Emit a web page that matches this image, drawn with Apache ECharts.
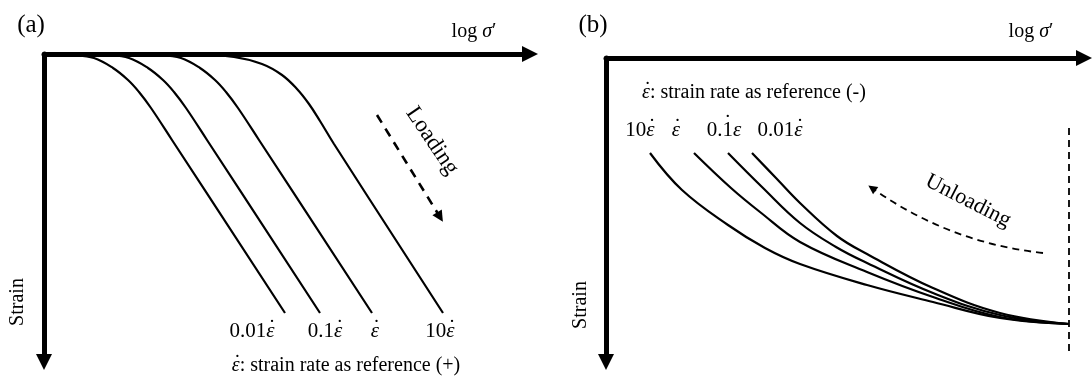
<!DOCTYPE html>
<html>
<head>
<meta charset="utf-8">
<script src="https://cdn.jsdelivr.net/npm/echarts@6/dist/echarts.min.js"></script>
<style>
  html, body { margin: 0; padding: 0; background: #fff; }
  #chart { width: 1092px; height: 378px; }
</style>
</head>
<body>
<div id="chart"></div>
<script>
// Panel (a): loading curves, [log σ' position, strain] in drawing units
const loading001 = [[0,0],[30,1],[50,4],[69,14],[84,26],[95,38],[107,54],[128,86],[241,259]];
const loading01  = [[0,0],[40,0.3],[65,1],[85,4],[104,14],[119,26],[130,38],[142,54],[163,86],[276,259]];
const loading1   = [[0,0],[80,0.3],[117,1],[137,4],[156,14],[171,26],[182,38],[194,54],[215,86],[328,259]];
const loading10  = [[0,0],[150,0.5],[190,3],[218,10],[238,21],[253,35],[265,50],[276,67],[290,90],[399,259]];
const loadingLabels = ['0.01', '0.1', '', '10'];
const loadingLabelX = [208, 281, 331, 396];
const loadingArrow = [[333,61],[396,163]];

// Panel (b): unloading curves
const unloading10  = [[44,95],[76,132],[122,167],[159,190],[194,206],[261,227],[327,244],[394,260],[463,266]];
const unloading1   = [[88,95],[125,130],[154,154],[194,184],[261,214],[327,239],[394,259],[463,266]];
const unloading01  = [[122,95],[156,129],[194,165],[230,189],[261,205],[327,235],[394,257],[463,266]];
const unloading001 = [[146,95],[170,120],[194,145],[231,178],[261,196],[327,230],[394,255],[463,266]];
const unloadingLabels = ['10', '', '0.1', '0.01'];
const unloadingLabelX = [34, 70, 118, 174];
const unloadingArrow = [[437,195],[266,130]];
const stopLine = [[463,70],[463,293]];

const SERIF = '"Liberation Serif", "Times New Roman", serif';
const black = '#000';
const deg = Math.PI / 180;

// text measuring, used to place the rate dot over its letter
const measureCtx = document.createElement('canvas').getContext('2d');
function textWidth(text, font) { measureCtx.font = font; return measureCtx.measureText(text).width; }

function axisPair(gridIndex, xMax, yMax) {
  const line = (sym) => ({
    show: true, symbol: sym, symbolSize: [16, 16],
    lineStyle: { color: black, width: 5 }
  });
  return {
    x: { type: 'value', gridIndex, position: 'top', min: 0, max: xMax,
         axisLine: line(['none', 'triangle']), axisTick: { show: false },
         axisLabel: { show: false }, splitLine: { show: false } },
    y: { type: 'value', gridIndex, inverse: true, min: 0, max: yMax,
         axisLine: line(['triangle', 'none']), axisTick: { show: false },
         axisLabel: { show: false }, splitLine: { show: false } }
  };
}
const ax0 = axisPair(0, 486, 308);
const ax1 = axisPair(1, 478, 304);

function curve(data, idx) {
  return {
    type: 'line', xAxisIndex: idx, yAxisIndex: idx, data, smooth: 0.4,
    symbol: 'none', silent: true, z: 1,
    lineStyle: { color: black, width: 2.2 }
  };
}

// A run of text pieces centred on (cx, cy); pieces may be italic and may carry a dot above.
function dottedText(pieces, cx, cy, size) {
  const fonts = pieces.map(p => (p.it ? 'italic ' : '') + size + 'px ' + SERIF);
  const widths = pieces.map((p, i) => textWidth(p.t, fonts[i]));
  const total = widths.reduce((a, b) => a + b, 0);
  let x = cx - total / 2;
  const els = [];
  pieces.forEach((p, i) => {
    els.push({
      type: 'text', x, y: cy, z: 10,
      style: { text: p.t, font: fonts[i], fill: black, align: 'left', verticalAlign: 'middle' }
    });
    if (p.dot) {
      const lift = p.it ? 0.1 : 0.3;
      els.push({
        type: 'text', x: x + widths[i] / 2 + (p.it ? 1.5 : 0), y: cy - size * lift, z: 10,
        style: { text: '˙', font: size + 'px ' + SERIF, fill: black, align: 'center', verticalAlign: 'middle' }
      });
    }
    x += widths[i];
  });
  return els;
}
function rateLabel(num, cx, cy) {
  const pieces = [];
  if (num) pieces.push({ t: num });
  pieces.push({ t: 'ε', it: true, dot: true });
  return dottedText(pieces, cx, cy, 21);
}
function plain(text, x, y, size, rotation) {
  return {
    type: 'text', x, y, rotation: rotation || 0, z: 10,
    style: { text, font: size + 'px ' + SERIF, fill: black, align: 'center', verticalAlign: 'middle' }
  };
}
function logSigma(cx, cy) {
  return dottedText([{ t: 'log ' }, { t: 'σ', it: true }, { t: '′' }], cx, cy, 20);
}
function legendLine(sign, cx, cy) {
  return dottedText([{ t: 'ε', it: true, dot: true }, { t: ': strain rate as reference (' + sign + ')' }], cx, cy, 20);
}

const graphics = [
  plain('(a)', 31, 25, 25),
  plain('(b)', 593, 25, 25),
  ...logSigma(474, 32),
  ...logSigma(1031, 32),
  plain('Strain', 18, 302, 20, Math.PI / 2),
  plain('Strain', 581, 305, 20, Math.PI / 2),
  plain('Loading', 432, 141, 23, -56 * deg),
  plain('Unloading', 968, 201, 22, -27 * deg),
  ...legendLine('+', 346, 366),
  ...legendLine('-', 754, 93)
];
loadingLabels.forEach((n, i) => graphics.push(...rateLabel(n, 44 + loadingLabelX[i], 331)));
unloadingLabels.forEach((n, i) => {
  if (n === '0.1') {
    // printed with the dot sitting over the 1
    graphics.push(...dottedText([{ t: '0.' }, { t: '1', dot: true }, { t: 'ε', it: true }], 606 + unloadingLabelX[i], 130, 21));
  } else {
    graphics.push(...rateLabel(n, 606 + unloadingLabelX[i], 130));
  }
});

const chart = echarts.init(document.getElementById('chart'), null, { renderer: 'canvas' });
chart.setOption({
  animation: false,
  backgroundColor: '#fff',
  grid: [
    { left: 44, top: 54, width: 486, height: 308 },
    { left: 606, top: 58, width: 478, height: 304 }
  ],
  xAxis: [ax0.x, ax1.x],
  yAxis: [ax0.y, ax1.y],
  series: [
    curve(loading001, 0), curve(loading01, 0), curve(loading1, 0), curve(loading10, 0),
    curve(unloading10, 1), curve(unloading1, 1), curve(unloading01, 1), curve(unloading001, 1),
    {
      type: 'line', xAxisIndex: 1, yAxisIndex: 1, data: stopLine, symbol: 'none', silent: true,
      lineStyle: { color: black, width: 1.8, type: [7, 5] }
    },
    {
      type: 'lines', coordinateSystem: 'cartesian2d', xAxisIndex: 0, yAxisIndex: 0, silent: true,
      symbol: ['none', 'triangle'], symbolSize: 11,
      lineStyle: { color: black, width: 2.6, type: [9, 7], opacity: 1 },
      data: [{ coords: loadingArrow }]
    },
    {
      type: 'lines', coordinateSystem: 'cartesian2d', xAxisIndex: 1, yAxisIndex: 1, silent: true,
      symbol: ['none', 'triangle'], symbolSize: 9,
      lineStyle: { color: black, width: 1.8, type: [7, 5], curveness: 0.13, opacity: 1 },
      data: [{ coords: unloadingArrow }]
    }
  ],
  graphic: graphics
});
</script>
</body>
</html>
